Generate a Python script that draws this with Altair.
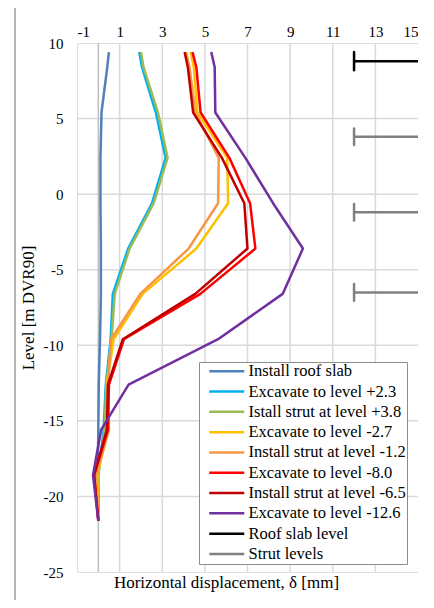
import altair as alt
import pandas as pd

# ---------------- data ----------------
levels = [9.4, 8.4, 5.4, 2.4, -0.6, -3.6, -6.6, -9.6, -12.6, -15.6, -18.6, -21.6]

series_names = [
    "Install roof slab",
    "Excavate to level +2.3",
    "Istall strut at level +3.8",
    "Excavate to level -2.7",
    "Install strut at level -1.2",
    "Excavate to level -8.0",
    "Install strut at level -6.5",
    "Excavate to level -12.6",
    "Roof slab level",
    "Strut levels",
]
series_colors = ["#4F81BD", "#00B0F0", "#9BBB59", "#FFC000", "#F79646",
                 "#FF0000", "#C00000", "#7030A0", "#000000", "#808080"]
series_widths = [2.5, 2.5, 2.5, 2.5, 2.5, 2.5, 2.5, 2.5, 5.5, 2.5]

disp_roof_slab = [0.5, 0.42, 0.15, 0.1, 0.1, 0.12, 0.12, 0.08, 0.02, 0.0, -0.03, 0.0]
disp_exc_p23 = [1.92, 2.05, 2.7, 3.16, 2.52, 1.4, 0.68, 0.58, 0.35, 0.25, 0.0, 0.0]
disp_strut_p38 = [2.0, 2.12, 2.8, 3.25, 2.6, 1.47, 0.77, 0.62, 0.38, 0.3, 0.0, 0.0]
disp_exc_m27 = [4.33, 4.48, 4.65, 6.05, 6.09, 4.6, 2.08, 0.72, 0.4, 0.45, -0.05, 0.0]
disp_strut_m12 = [4.12, 4.28, 4.55, 5.65, 5.62, 4.24, 1.97, 0.6, 0.45, 0.5, -0.1, 0.0]
disp_exc_m80 = [4.42, 4.6, 4.8, 6.15, 7.12, 7.37, 4.79, 1.2, 0.5, 0.45, -0.2, 0.0]
disp_strut_m65 = [4.05, 4.2, 4.45, 5.8, 6.85, 7.0, 4.55, 1.15, 0.45, 0.4, -0.2, 0.0]
disp_exc_m126 = [5.3, 5.46, 5.49, 6.9, 8.2, 9.6, 8.65, 5.62, 1.42, 0.13, -0.25, 0.0]

curves = [disp_roof_slab, disp_exc_p23, disp_strut_p38, disp_exc_m27,
          disp_strut_m12, disp_exc_m80, disp_strut_m65, disp_exc_m126]

roof_slab_levels = [8.8]
strut_levels = [3.8, -1.2, -6.5]
level_line_x = [12, 15]
cap_half = [0.6, 0.55]

x_ticks = [-1, 1, 3, 5, 7, 9, 11, 13, 15]
y_ticks = [10, 5, 0, -5, -10, -15, -20, -25]
x_grid = [1, 3, 5, 7, 9, 11, 13]
y_grid = [5, 0, -5, -10, -15, -20]

# ---------------- tables ----------------
rows = []
for si, vals in enumerate(curves):
    for k, (x, y) in enumerate(zip(vals, levels)):
        rows.append({"series": series_names[si], "x": x, "y": y, "seg": series_names[si], "o": k})
for lv in roof_slab_levels:
    for k, x in enumerate(level_line_x):
        rows.append({"series": series_names[8], "x": x, "y": lv, "seg": f"roof{lv}", "o": k})
for lv in strut_levels:
    for k, x in enumerate(level_line_x):
        rows.append({"series": series_names[9], "x": x, "y": lv, "seg": f"strut{lv}", "o": k})
df = pd.DataFrame(rows)

caps = []
for lv in roof_slab_levels:
    caps.append({"series": series_names[8], "x": level_line_x[0], "y": lv + cap_half[0], "y2": lv - cap_half[0]})
for lv in strut_levels:
    caps.append({"series": series_names[9], "x": level_line_x[0], "y": lv + cap_half[1], "y2": lv - cap_half[1]})
caps_df = pd.DataFrame(caps)

FONT = "Liberation Serif"
W, H = 341, 529

xscale = alt.Scale(domain=[-1, 15], nice=False, zero=False)
yscale = alt.Scale(domain=[-25, 10], nice=False, zero=False)

x_axis = alt.Axis(orient="top", values=x_ticks, grid=False, ticks=False, tickSize=0,
                  domain=False, labelFont=FONT, labelFontSize=15, labelColor="black",
                  labelPadding=4, labelExpr="datum.value",
                  title="Horizontal displacement, δ [mm]", titleFont=FONT, titleFontSize=17,
                  titleFontWeight="normal", titleColor="black",
                  titleX=149, titleY=H + 10, titleBaseline="middle", titleAlign="center", titleAngle=0)
y_axis = alt.Axis(values=y_ticks, grid=False, ticks=False, tickSize=0, domain=False,
                  labelFont=FONT, labelFontSize=15, labelColor="black", labelPadding=14,
                  labelExpr="datum.value",
                  title="Level [m DVR90]", titleFont=FONT, titleFontSize=17,
                  titleFontWeight="normal", titleColor="black", titlePadding=6)

leg = alt.Legend(
    title=None, orient="none", legendX=122, legendY=319,
    symbolType="M0.167,0H6.0", symbolSize=144, labelFont=FONT, labelFontSize=16.5,
    labelColor="black", fillColor="white", strokeColor="#8C8C8C",
    padding=1, rowPadding=3.3, labelOffset=32, labelLimit=300,
    labelExpr="datum.label + '    '",
)
color = alt.Color("series:N", scale=alt.Scale(domain=series_names, range=series_colors), legend=leg)
swidth = alt.StrokeWidth("series:N", scale=alt.Scale(domain=series_names, range=series_widths), legend=leg)

xgrid = alt.Chart(pd.DataFrame({"x": x_grid})).mark_rule(color="#D9D9D9", strokeWidth=1.5).encode(
    x=alt.X("x:Q", scale=xscale, axis=x_axis)
)
ygrid = alt.Chart(pd.DataFrame({"y": y_grid})).mark_rule(color="#D9D9D9", strokeWidth=1.5).encode(
    y=alt.Y("y:Q", scale=yscale, axis=y_axis)
)
zero_axis = alt.Chart(pd.DataFrame({"x": [0]})).mark_rule(color="#BFBFBF", strokeWidth=1.5).encode(
    x=alt.X("x:Q", scale=xscale, axis=x_axis)
)

lines = alt.Chart(df).mark_line(strokeJoin="round").encode(
    x=alt.X("x:Q", scale=xscale, axis=x_axis),
    y=alt.Y("y:Q", scale=yscale, axis=y_axis),
    color=color,
    strokeWidth=swidth,
    detail="seg:N",
    order="o:Q",
)
cap_marks = alt.Chart(caps_df).mark_rule(strokeCap="round").encode(
    x=alt.X("x:Q", scale=xscale, axis=x_axis),
    y=alt.Y("y:Q", scale=yscale, axis=y_axis),
    y2="y2:Q",
    color=alt.Color("series:N", scale=alt.Scale(domain=series_names, range=series_colors), legend=None),
    strokeWidth=alt.StrokeWidth("series:N", scale=alt.Scale(domain=series_names, range=series_widths), legend=None),
)

frame_left = alt.Chart(pd.DataFrame({"a": [0]})).mark_rule(color="#8C8C8C", strokeWidth=1.3).encode(
    x=alt.value(-62), y=alt.value(-37), y2=alt.value(H + 40)
)
frame_top = alt.Chart(pd.DataFrame({"a": [0]})).mark_rule(color="#8C8C8C", strokeWidth=1.3).encode(
    x=alt.value(-62), x2=alt.value(W + 40), y=alt.value(-37)
)

chart = alt.layer(xgrid, ygrid, zero_axis, lines, cap_marks, frame_left, frame_top).properties(
    width=W, height=H,
    autosize=alt.AutoSizeParams(type="none"),
    padding={"left": 69, "top": 35, "right": 0, "bottom": 28},
).configure_view(
    stroke="#8C8C8C", strokeWidth=1.5
).configure_axis(
    labelFont=FONT, titleFont=FONT
).configure_legend(
    labelFont=FONT, labelFontSize=16.5
).configure(background="white")

chart.save("out.html", embed_options={"renderer": "svg", "actions": False})
